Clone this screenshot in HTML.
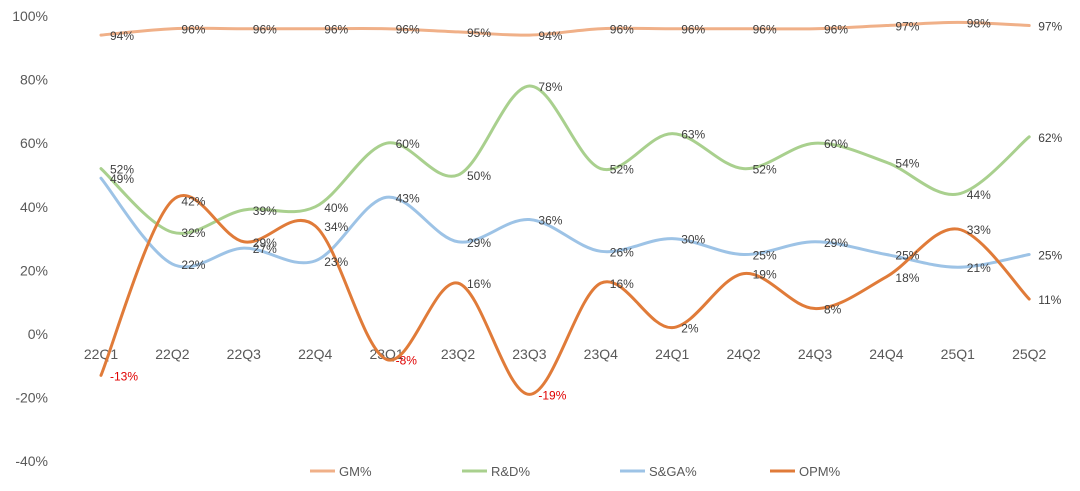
<!DOCTYPE html>
<html><head><meta charset="utf-8">
<style>
html,body{margin:0;padding:0;background:#fff;}
svg{display:block;font-family:"Liberation Sans","DejaVu Sans",sans-serif;}
</style></head>
<body>
<svg id="chart" width="1080" height="491" viewBox="0 0 1080 491"></svg>
<script>
const categories=["22Q1","22Q2","22Q3","22Q4","23Q1","23Q2","23Q3","23Q4","24Q1","24Q2","24Q3","24Q4","25Q1","25Q2"];
const gm=[94,96,96,96,96,95,94,96,96,96,96,97,98,97];
const rd=[52,32,39,40,60,50,78,52,63,52,60,54,44,62];
const sga=[49,22,27,23,43,29,36,26,30,25,29,25,21,25];
const opm=[-13,42,29,34,-8,16,-19,16,2,19,8,18,33,11];
const yTicks=[100,80,60,40,20,0,-20,-40];
const seriesNames=["GM%","R&D%","S&GA%","OPM%"];

const svg=document.getElementById('chart');
const NS='http://www.w3.org/2000/svg';
function x(i){return 101+i*71.4;}
function y(v){return 334-v*3.18;}
function mk(t,a){const e=document.createElementNS(NS,t);for(const k in a)e.setAttribute(k,a[k]);svg.appendChild(e);return e;}

yTicks.forEach(t=>{
  const e=mk('text',{x:48,y:y(t)+5,'text-anchor':'end','font-size':14,fill:'#595959'});
  e.textContent=t+'%';
  
  
});
categories.forEach((c,i)=>{
  const e=mk('text',{x:x(i),y:359,'text-anchor':'middle','font-size':14,fill:'#595959'});
  e.textContent=c;
  
  
});

function path(vals){
  const p=vals.map((v,i)=>[x(i),y(v)]);
  let d='M'+p[0][0]+','+p[0][1];
  for(let i=0;i<p.length-1;i++){
    const p0=p[i-1]||p[i],p1=p[i],p2=p[i+1],p3=p[i+2]||p[i+1];
    const c1x=p1[0]+(p2[0]-p0[0])/6,c1y=p1[1]+(p2[1]-p0[1])/6;
    const c2x=p2[0]-(p3[0]-p1[0])/6,c2y=p2[1]-(p3[1]-p1[1])/6;
    d+=' C'+c1x+','+c1y+' '+c2x+','+c2y+' '+p2[0]+','+p2[1];
  }
  return d;
}
const series=[[gm,'#F0B088','gm'],[rd,'#A9D08E','rd'],[sga,'#9DC3E6','sga'],[opm,'#E07B39','opm']];
series.forEach(([vals,col,key])=>{
  const l=mk('path',{d:path(vals),fill:'none',stroke:col,'stroke-width':3,'stroke-linecap':'round'});
  
  
});
series.forEach(([vals,col,key])=>{
  vals.forEach((v,i)=>{
    const t=mk('text',{x:x(i)+9,y:y(v)+5,'font-size':12,fill:v<0?'#E00000':'#404040'});
    t.textContent=v+'%';
    
    
  });
});
const legX=[310,462,620,770];
series.forEach(([vals,col,key],k)=>{
  const l=mk('line',{x1:legX[k],y1:471,x2:legX[k]+25,y2:471,stroke:col,'stroke-width':3});
  
  
  const t=mk('text',{x:legX[k]+29,y:476,'font-size':13,fill:'#595959'});
  t.textContent=seriesNames[k];
  
  
});
</script>
</body></html>
